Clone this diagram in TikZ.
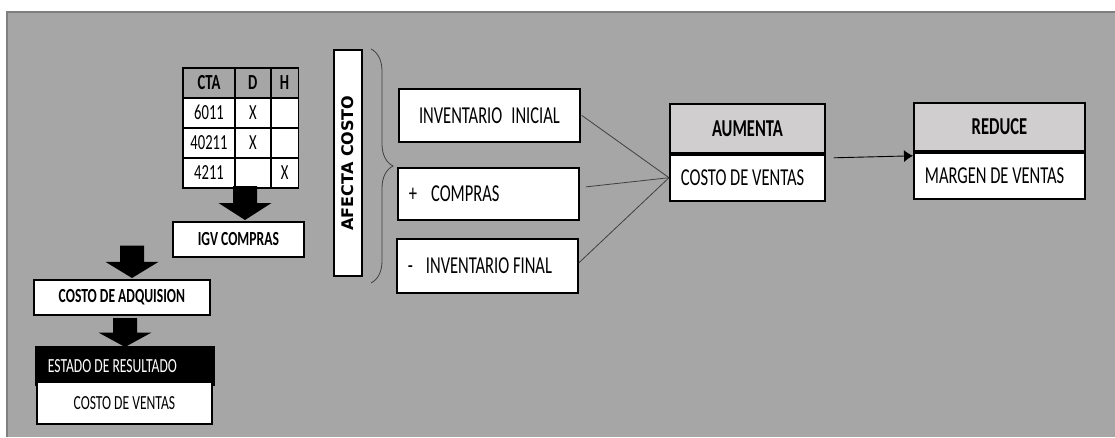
\documentclass[tikz,border=0pt]{standalone}
\usepackage{fontspec}
\setmainfont{Carlito}[FakeStretch=0.68]
\newfontfamily\afectafont{DejaVu Sans}
\usepackage{tikz}
\usetikzlibrary{
    matrix,
    arrows.meta,
    decorations.pathreplacing,
    positioning,
    calc
}

\definecolor{fondo}{HTML}{A6A6A6}
\definecolor{borde}{HTML}{7F7F7F}
\definecolor{cabecera}{HTML}{D0CECE}
\definecolor{linea}{HTML}{404040}

\newcommand{\fgrande}{\fontsize{24.3}{29}\selectfont}
\newcommand{\fchica}{\fontsize{20}{24}\selectfont}
\newcommand{\ftabla}{\fontsize{21.5}{26}\selectfont}
% texto alineado a la izquierda dentro de la caja
\newcommand{\aizq}[2]{\makebox[#1][l]{#2}}

\tikzset{
    caja/.style={draw=black, line width=1.8pt, fill=white, inner sep=0pt, anchor=north west, font=\fgrande},
    titulo/.style={caja, fill=cabecera, font=\fgrande\bfseries},
    izq/.style={inner xsep=11pt},
    flecha/.pic={\fill[black] (-12,-34) -- (12,-34) -- (12,-17) -- (26.5,-17) -- (0,0) -- (-26.5,-17) -- (-12,-17) -- cycle;}
}

\begin{document}
\begin{tikzpicture}[x=1pt,y=-1pt]
            \useasboundingbox (0,0) rectangle (1115,437);
            \fill[fondo] (7,12) rectangle (1115,437);
            \draw[borde, line width=2pt] (7,437) -- (7,12) -- (1115,12);

            % tabla de cuentas
            \matrix (cta) [matrix of nodes, nodes in empty cells, anchor=north west, inner sep=0pt,
                column sep=-1.8pt, row sep=-1.8pt,
                nodes={draw, line width=1.8pt, fill=white, inner sep=0pt, anchor=center,
                    text height=14pt, text depth=1pt, minimum height=30pt, font=\ftabla},
                column 1/.style={nodes={minimum width=51.8pt}},
                column 2/.style={nodes={minimum width=35.8pt}},
                column 3/.style={nodes={minimum width=27.8pt}},
                row 1/.style={nodes={fill=fondo, font=\ftabla\bfseries}}] at (182,67) {
                CTA & D & H \\
                6011 & X & \\
                40211 & X & \\
                4211 & & X \\
            };

            \node[caja, font=\fchica\bfseries, minimum width=131, minimum height=35] (igv) at (172,221) {IGV COMPRAS};
            \node[caja, font=\fchica\bfseries, minimum width=176, minimum height=35] (adq) at (33,279) {COSTO DE ADQUISION};
            \node[caja, fill=black, text=white, font=\fchica, inner xsep=12pt, minimum height=38] (estado) at (35,346) {\aizq{154pt}{ESTADO DE RESULTADO}};
            \node[caja, font=\fchica, minimum width=175, minimum height=42] (cvizq) at (36,381) {COSTO DE VENTAS};

            \pic at (245,220) {flecha};
            \pic[yscale=0.95] at (132,278) {flecha};
            \pic[yscale=0.85] at (125,347) {flecha};

            % afecta costo
            \node[caja, anchor=center, rotate=90, minimum width=226, minimum height=28, font=\afectafont\bfseries\fontsize{16}{19}\selectfont] (afecta) at (348,163) {AFECTA COSTO};
            \draw[linea, line width=0.8pt, decorate, decoration={brace, amplitude=22pt}] (371,49) -- (371,283);

            \node[caja, minimum width=181, minimum height=53] (ini) at (398,88) {INVENTARIO\hspace{9pt}INICIAL};
            \node[caja, izq, minimum height=52] (compras) at (397,167) {\aizq{159pt}{+\hspace{14pt}COMPRAS}};
            \node[caja, izq, minimum height=54] (fin) at (396,238) {\aizq{159pt}{-\hspace{13pt}INVENTARIO FINAL}};

            \node[titulo, minimum width=155, minimum height=49] (aumenta) at (669,103) {AUMENTA};
            \node[caja, izq, minimum height=46] (cv) at (aumenta.south west) {\aizq{133pt}{COSTO DE VENTAS}};

            \node[titulo, minimum width=171, minimum height=48] (reduce) at (913,102) {REDUCE};
            \node[caja, izq, minimum height=46] (mv) at (reduce.south west) {\aizq{149pt}{MARGEN DE VENTAS}};

            \draw[linea, line width=0.8pt] ([xshift=1pt]ini.east) -- (cv.west);
            \draw[linea, line width=0.8pt] ([xshift=6pt,yshift=7pt]compras.east) -- (cv.west);
            \draw[linea, line width=0.8pt] ([yshift=3pt]fin.east) -- (cv.west);

            \draw[-{Latex[length=9pt,width=12pt]}, line width=0.9pt] ([xshift=8pt,yshift=-4pt]aumenta.south east) -- ([yshift=-4pt]reduce.south west);
        \end{tikzpicture}
\end{document}
